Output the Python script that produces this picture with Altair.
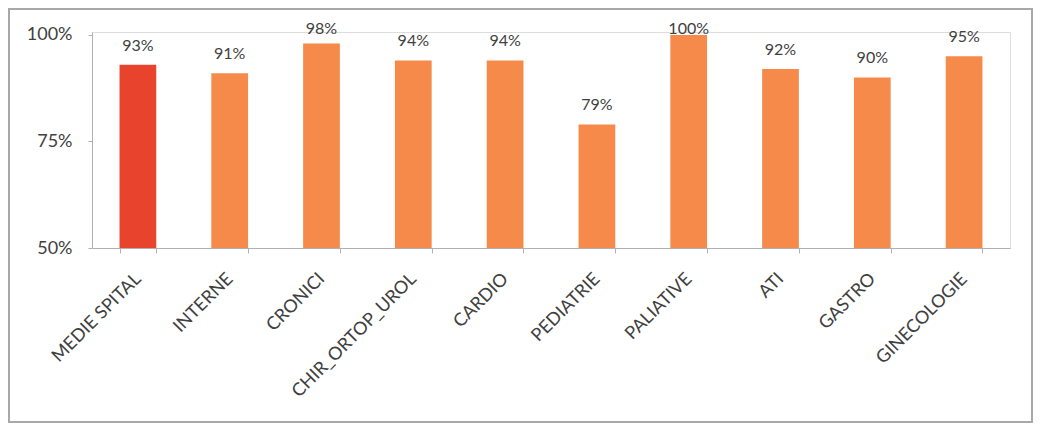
import altair as alt
import pandas as pd

categories = ["MEDIE SPITAL", "INTERNE", "CRONICI", "CHIR_ORTOP_UROL", "CARDIO",
              "PEDIATRIE", "PALIATIVE", "ATI", "GASTRO", "GINECOLOGIE"]
values = [93, 91, 98, 94, 94, 79, 100, 92, 90, 95]
groups = ["avg", "dept", "dept", "dept", "dept", "dept", "dept", "dept", "dept", "dept"]

df = pd.DataFrame({"cat": categories, "val": values, "grp": groups})

W, H = 918, 216
PL, PT, PR, PB = 84, 24, 23, 175
FONT = "Lato"
TXT = "#404040"

x = alt.X("cat:N", sort=None, title=None,
          scale=alt.Scale(paddingInner=0.6, paddingOuter=0.3),
          axis=alt.Axis(labelAngle=-45, labelAlign="right", labelBaseline="middle",
                        labelFontSize=18, labelFont=FONT, labelColor=TXT,
                        tickBand="extent", tickSize=5, tickColor="#b0b0b0",
                        domainColor="#b0b0b0", labelPadding=23))
y = alt.Y("val:Q", title=None,
          scale=alt.Scale(domain=[50, 100.7], zero=False, nice=False),
          axis=alt.Axis(values=[50, 75, 100], labelExpr="datum.value + '%'",
                        labelFontSize=18, labelFont=FONT, labelColor=TXT,
                        tickSize=4, tickColor="#b0b0b0", domainColor="#b0b0b0",
                        grid=False, labelPadding=16))

bars = alt.Chart(df).mark_bar().encode(
    x=x, y=y, y2=alt.datum(50),
    color=alt.Color("grp:N", scale=alt.Scale(domain=["avg", "dept"],
                                             range=["#E8432D", "#F58A4B"]), legend=None),
)

# labels sit above the bars, but are kept inside the plot area (as Excel does)
labels = alt.Chart(df).transform_calculate(
    lbl="datum.val + '%'",
    ly="min(datum.val + 4.5, 101.3)",
).mark_text(fontSize=16, font=FONT, color=TXT).encode(
    x=alt.X("cat:N", sort=None), y="ly:Q", text="lbl:N",
)

frame = alt.Chart(df).mark_rect(fill=None, stroke="#a8a8a8", strokeWidth=1.5).encode(
    x=alt.value(-PL + 1), x2=alt.value(W + PR - 1),
    y=alt.value(-PT + 1), y2=alt.value(H + PB - 1),
)

chart = alt.layer(frame, bars, labels).properties(
    width=W, height=H,
    autosize=alt.AutoSizeParams(type="none"),
    padding={"left": PL, "top": PT, "right": PR, "bottom": PB},
).configure_view(stroke=None).configure(background="white")

chart.save("out.html", embed_options={"renderer": "svg", "actions": False})
